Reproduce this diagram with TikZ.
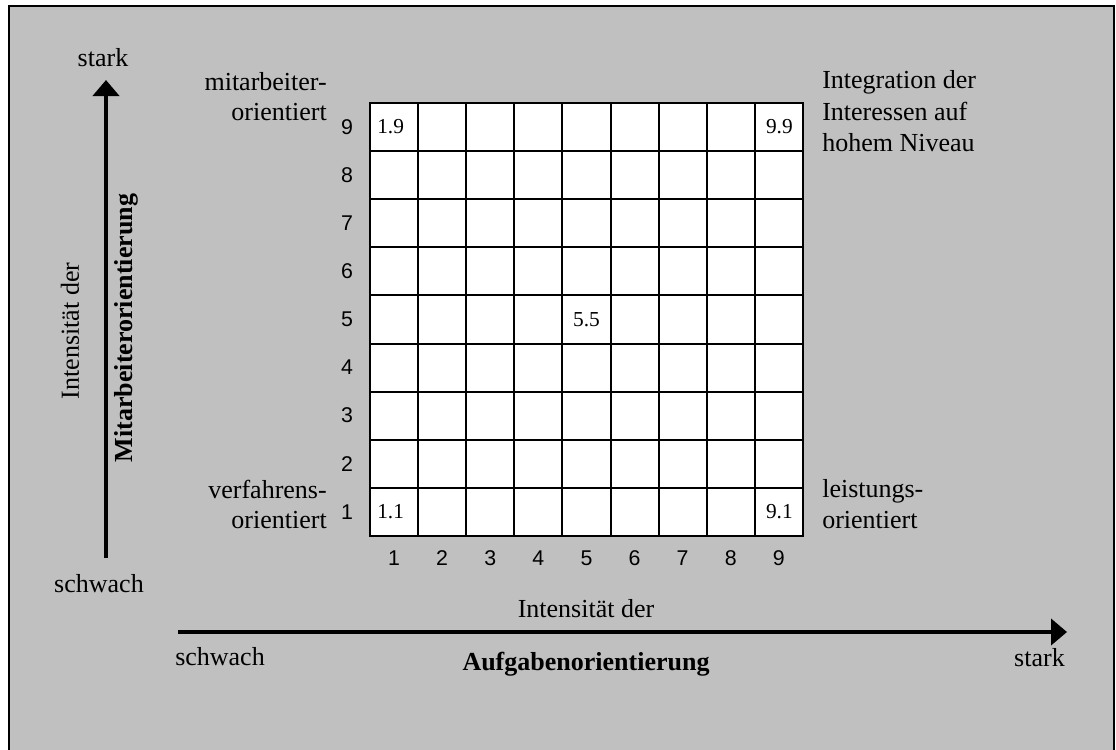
\documentclass[tikz,border=0pt]{standalone}
\usepackage{fontspec}
\setmainfont{Liberation Serif}
\newfontfamily\arialf{Liberation Sans}
\usetikzlibrary{arrows.meta}
\definecolor{bg}{HTML}{C0C0C0}
\begin{document}
\begin{tikzpicture}[x=0.75pt,y=-0.75pt,
  lbl/.style={inner sep=0pt,font=\fontsize{19.5}{22.5}\selectfont},
  blbl/.style={inner sep=0pt,font=\fontsize{19.5}{22.5}\selectfont\bfseries},
  num/.style={inner sep=0pt,font=\arialf\fontsize{16}{18}\selectfont},
  cell/.style={inner sep=0pt,font=\fontsize{16}{18}\selectfont},
  gridline/.style={line width=1.5pt,line cap=rect},
  axis/.style={line width=3pt,-{Triangle[length=12pt,width=19.5pt]}},
]
\useasboundingbox (0,0) rectangle (1116,749);
\fill[bg] (9,6) rectangle (1115,760);
\draw[line width=1.5pt] (9,760) -- (9,6) -- (1114,6) -- (1114,760);

% grid
\fill[white] (370,103) rectangle (802.9,535.9);
\foreach \i in {0,...,9} {
  \draw[gridline] ({370+\i*48.1},103) -- ({370+\i*48.1},535.9);
  \draw[gridline] (370,{103+\i*48.1}) -- (802.9,{103+\i*48.1});
}
\foreach \k in {1,...,9} {
  \node[num] (r\k) at (347,{535.9-(\k-0.5)*48.1}) {\k};
  \node[num] (c\k) at ({370+(\k-0.5)*48.1},558) {\k};
}

% cell labels
\node[cell,anchor=west] (l19) at (377,127) {1.9};
\node[cell,anchor=east] (l99) at (793,127) {9.9};
\node[cell] (l55) at (586.5,319.5) {5.5};
\node[cell,anchor=west] (l11) at (377,511.5) {1.1};
\node[cell,anchor=east] (l91) at (793,511.5) {9.1};

% corner texts
\node[lbl,anchor=base east] (ma1) at (327,90) {mitarbeiter-};
\node[lbl,anchor=base east] (ma2) at (327,120) {orientiert};
\node[lbl,anchor=base east] (vf1) at (327,498) {verfahrens-};
\node[lbl,anchor=base east] (vf2) at (327,528) {orientiert};
\node[lbl,anchor=base west] (in1) at (822,89) {Integration der};
\node[lbl,anchor=base west] (in2) at (822,120) {Interessen auf};
\node[lbl,anchor=base west] (in3) at (822,151) {hohem Niveau};
\node[lbl,anchor=base west] (ls1) at (822,497) {leistungs-};
\node[lbl,anchor=base west] (ls2) at (822,528) {orientiert};

% vertical axis
\coordinate (vtail) at (106,558);
\coordinate (vtip) at (106,80);
\draw[axis] (vtail) -- (vtip);
\node[lbl,anchor=base] (vstark) at (103,66) {stark};
\node[lbl,anchor=base] (vschwach) at (99,592) {schwach};
\node[lbl,rotate=90] (vint) at (70,331) {Intensität der};
\node[blbl,rotate=90] (vbold) at (126,328) {Mitarbeiterorientierung};

% horizontal axis
\coordinate (htail) at (178,632);
\coordinate (htip) at (1067,632);
\draw[axis] (htail) -- (htip);
\node[lbl,anchor=base] (hint) at (586,617) {Intensität der};
\node[lbl,anchor=base west] (hschwach) at (175,665) {schwach};
\node[blbl,anchor=base] (hbold) at (586,670) {Aufgabenorientierung};
\node[lbl,anchor=base east] (hstark) at (1065,666) {stark};
\end{tikzpicture}
\end{document}
